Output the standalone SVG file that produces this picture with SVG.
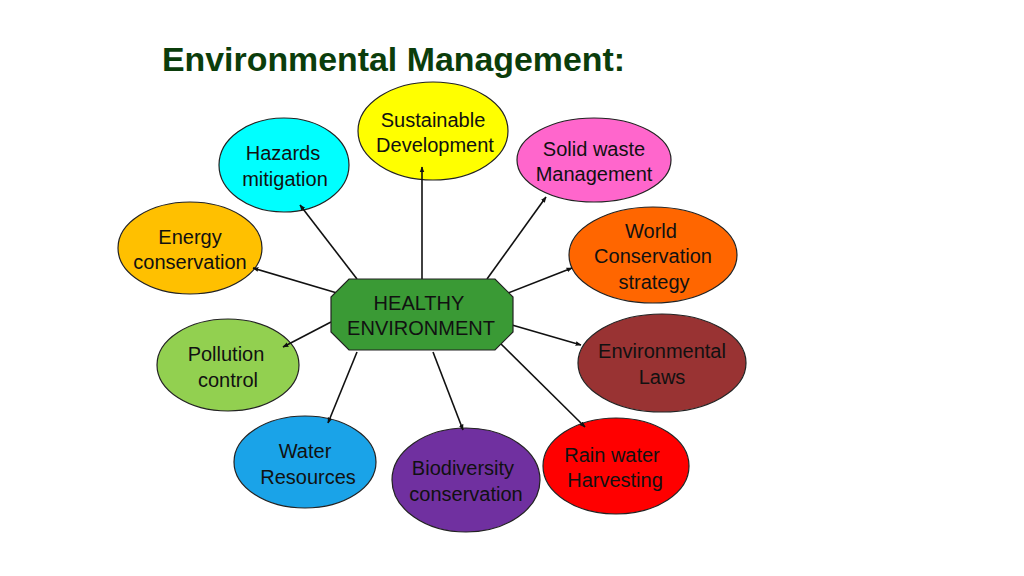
<svg xmlns="http://www.w3.org/2000/svg" width="1024" height="576" viewBox="0 0 1024 576">
<style>
.n{stroke:#222;stroke-width:1.2}
.t{font-family:"Liberation Sans",Arial,sans-serif;font-size:20px;fill:#111;text-anchor:middle}
.c line{stroke:#111;stroke-width:1.6;marker-end:url(#ah)}
</style>
<defs>
<marker id="ah" viewBox="0 0 10 10" refX="9" refY="5" markerWidth="6" markerHeight="6" markerUnits="userSpaceOnUse" orient="auto">
<path d="M0,1 L10,5 L0,9 z" fill="#111"/>
</marker>
</defs>
<rect width="1024" height="576" fill="#fff"/>
<text x="162" y="71" font-family="Liberation Sans,Arial,sans-serif" font-weight="bold" font-size="33" textLength="463" lengthAdjust="spacingAndGlyphs" fill="#0b3d0b">Environmental Management:</text>
<g id="sustainable"><ellipse class="n" cx="433" cy="131" rx="75" ry="49" fill="#ffff00"/><text class="t" x="433" y="127">Sustainable</text><text class="t" x="435" y="152">Development</text></g>
<g id="solidwaste"><ellipse class="n" cx="594" cy="160" rx="77" ry="42" fill="#ff66cc"/><text class="t" x="594" y="156">Solid waste</text><text class="t" x="594" y="181">Management</text></g>
<g id="hazards"><ellipse class="n" cx="284" cy="165" rx="65" ry="47" fill="#00ffff"/><text class="t" x="283" y="160">Hazards</text><text class="t" x="285" y="186">mitigation</text></g>
<g id="energy"><ellipse class="n" cx="190" cy="248" rx="72" ry="46" fill="#ffc000"/><text class="t" x="190" y="244">Energy</text><text class="t" x="190" y="269">conservation</text></g>
<g id="world"><ellipse class="n" cx="653" cy="255" rx="84" ry="48" fill="#ff6600"/><text class="t" x="651" y="238">World</text><text class="t" x="653" y="263">Conservation</text><text class="t" x="654" y="289">strategy</text></g>
<g id="pollution"><ellipse class="n" cx="228" cy="365" rx="71" ry="46" fill="#92d050"/><text class="t" x="226" y="361">Pollution</text><text class="t" x="228" y="387" font-size="18">control</text></g>
<g id="laws"><ellipse class="n" cx="662" cy="363" rx="84" ry="49" fill="#993333"/><text class="t" x="662" y="358">Environmental</text><text class="t" x="662" y="384">Laws</text></g>
<g id="water"><ellipse class="n" cx="305" cy="462" rx="71" ry="46" fill="#1aa3e8"/><text class="t" x="305" y="458">Water</text><text class="t" x="308" y="484">Resources</text></g>
<g id="biodiversity"><ellipse class="n" cx="466" cy="480" rx="74" ry="52" fill="#7030a0"/><text class="t" x="463" y="475">Biodiversity</text><text class="t" x="466" y="501">conservation</text></g>
<g id="rainwater"><ellipse class="n" cx="616" cy="466" rx="73" ry="48" fill="#ff0000"/><text class="t" x="612" y="462">Rain water</text><text class="t" x="615" y="487">Harvesting</text></g>
<g class="c">
<line x1="422" y1="279" x2="422" y2="167"/>
<line x1="487" y1="279" x2="546" y2="197"/>
<line x1="357" y1="279" x2="300" y2="205"/>
<line x1="337" y1="293" x2="253" y2="268"/>
<line x1="508" y1="293" x2="572" y2="268"/>
<line x1="331" y1="322" x2="283" y2="347"/>
<line x1="512" y1="325" x2="581" y2="345"/>
<line x1="357" y1="352" x2="328" y2="423"/>
<line x1="433" y1="352" x2="463" y2="430"/>
<line x1="497" y1="340" x2="585" y2="427"/>
</g>
<g id="healthy"><polygon class="n" points="349,279 495,279 513,297 513,332 495,350 349,350 331,332 331,297" fill="#3a9a35"/><text class="t" x="419" y="310">HEALTHY</text><text class="t" x="421" y="335">ENVIRONMENT</text></g>
</svg>
